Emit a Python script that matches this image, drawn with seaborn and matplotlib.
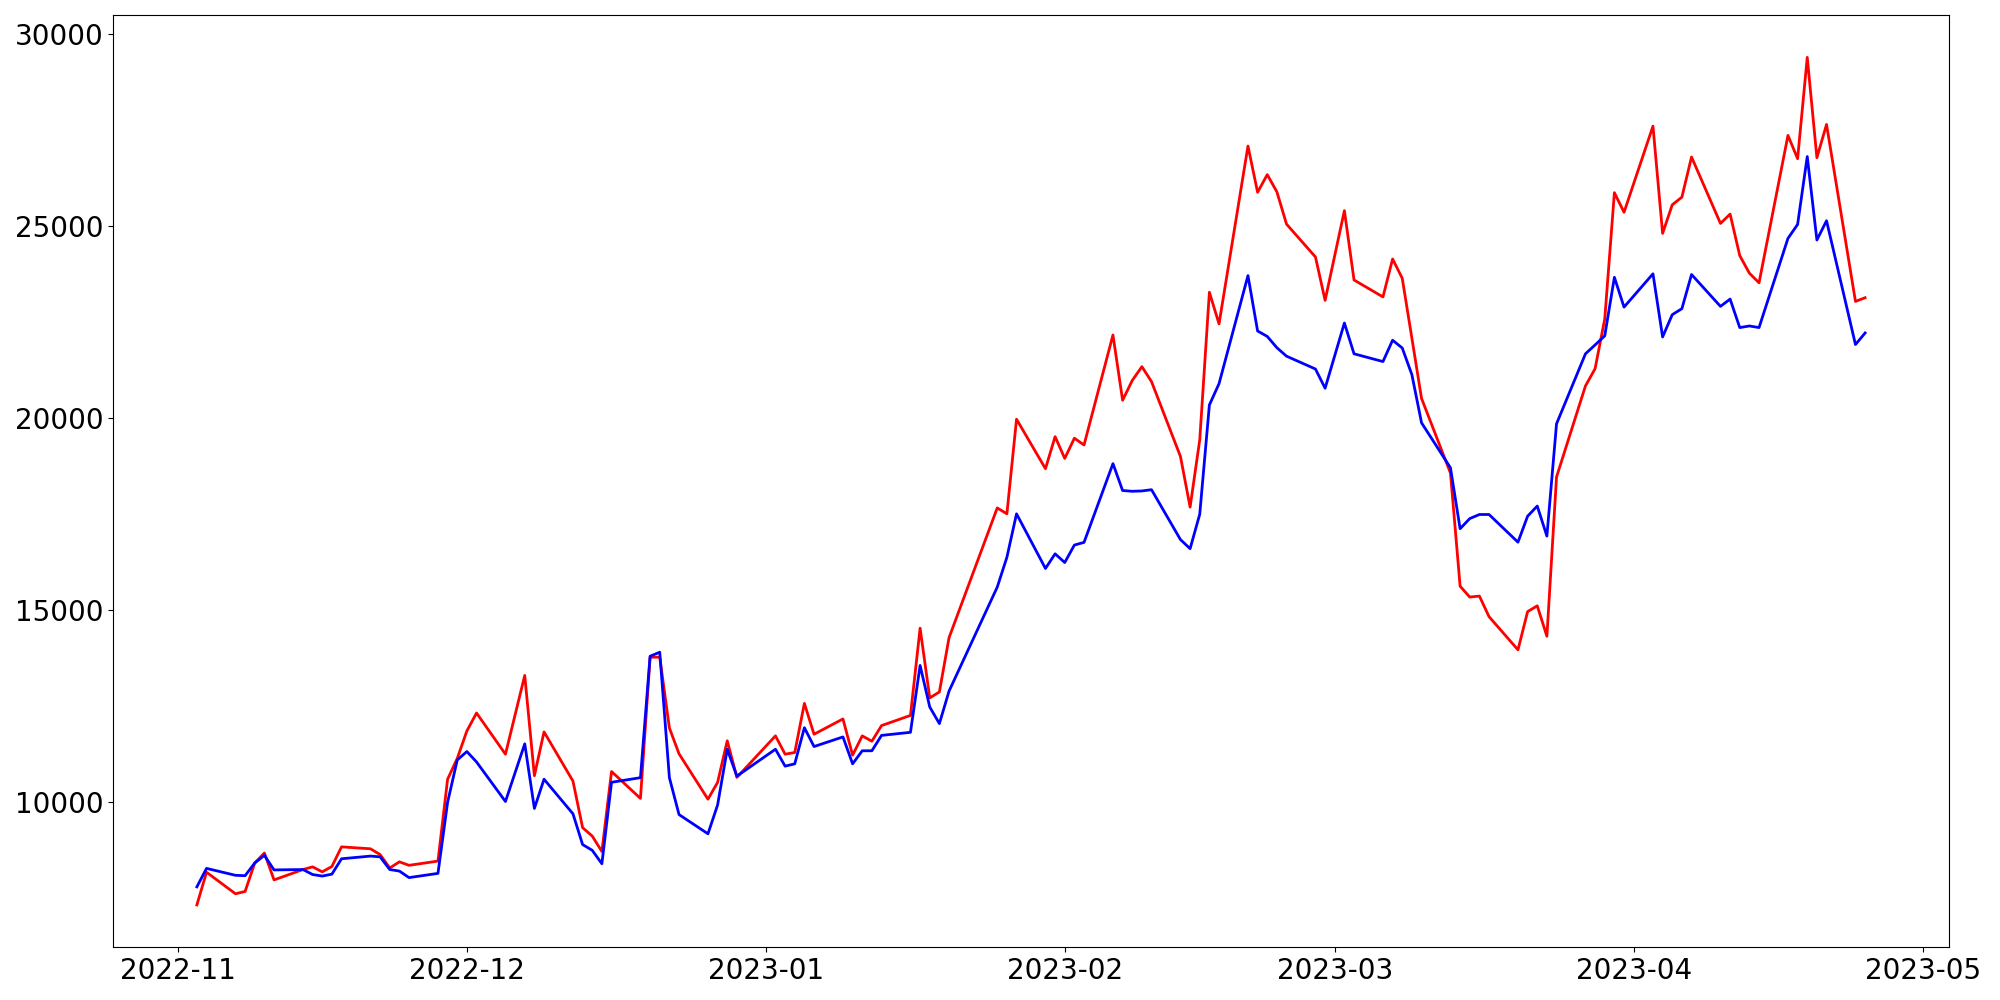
import matplotlib
matplotlib.use("Agg")
import matplotlib.pyplot as plt
import seaborn as sns
import pandas as pd

nov = [3, 4, 7, 8, 9, 10, 11, 14, 15, 16, 17, 18, 21, 22, 23, 24, 25, 28, 29, 30]
dec = [1, 2, 5, 7, 8, 9, 12, 13, 14, 15, 16, 19, 20, 21, 22, 23, 26, 27, 28, 29]
jan = [2, 3, 4, 5, 6, 9, 10, 11, 12, 13, 16, 17, 18, 19, 20, 25, 26, 27, 30, 31]
feb = [1, 2, 3, 6, 7, 8, 9, 10, 13, 14, 15, 16, 17, 20, 21, 22, 23, 24, 27, 28]
mar = [2, 3, 6, 7, 8, 9, 10, 13, 14, 15, 16, 17, 20, 21, 22, 23, 24, 27, 28, 29, 30, 31]
apr = [3, 4, 5, 6, 7, 10, 11, 12, 13, 14, 17, 18, 19, 20, 21, 24, 25]

red_series = [
    7330, 8180, 7620, 7680, 8420, 8680, 7980, 8250, 8320, 8190, 8330, 8840, 8790, 8640, 8290, 8450, 8360, 8470, 10600, 11140,
    11857, 12323, 11251, 13300, 10691, 11831, 10552, 9340, 9120, 8720, 10800, 10100, 13774, 13774, 11935, 11261, 10080, 10518, 11600, 10648,
    11728, 11251, 11295, 12573, 11770, 12168, 11226, 11728, 11588, 11995, 12260, 14530, 12715, 12870, 14282, 17658, 17505, 19966, 18679, 19513,
    18946, 19472, 19295, 22158, 20459, 20974, 21334, 20943, 18997, 17679, 19430, 23269, 22446, 27073, 25870, 26330, 25881, 25041, 24187, 23059,
    25393, 23588, 23148, 24135, 23632, 22073, 20507, 18566, 15622, 15339, 15365, 14829, 13966, 14961, 15111, 14319, 18464, 20832, 21282, 22575, 25860, 25350,
    27591, 24801, 25544, 25744, 26788, 25060, 25303, 24223, 23765, 23515, 27350, 26744, 29380, 26770, 27635, 23031, 23127,
]

blue_series = [
    7800, 8280, 8100, 8090, 8420, 8620, 8240, 8250, 8120, 8080, 8130, 8530, 8600, 8580, 8250, 8210, 8040, 8150, 10000, 11100,
    11320, 11049, 10020, 11520, 9840, 10600, 9700, 8900, 8750, 8400, 10520, 10640, 13800, 13904, 10640, 9680, 9180, 9930, 11380, 10680,
    11380, 10940, 11000, 11940, 11450, 11700, 11000, 11340, 11340, 11740, 11820, 13560, 12479, 12047, 12891, 15598, 16373, 17505, 16083, 16464,
    16238, 16692, 16762, 18811, 18111, 18091, 18100, 18132, 16834, 16598, 17495, 20337, 20891, 23702, 22261, 22120, 21826, 21606, 21272, 20772,
    22469, 21668, 21466, 22021, 21819, 21124, 19873, 18702, 17117, 17381, 17487, 17487, 16767, 17443, 17707, 16925, 19847, 21668, 21899, 22135, 23658, 22883,
    23749, 22106, 22686, 22842, 23731, 22902, 23091, 22350, 22392, 22350, 24671, 25034, 26800, 24629, 25130, 21909, 22210,
]

dates = ([f"2022-11-{d:02d}" for d in nov] + [f"2022-12-{d:02d}" for d in dec]
         + [f"2023-01-{d:02d}" for d in jan] + [f"2023-02-{d:02d}" for d in feb]
         + [f"2023-03-{d:02d}" for d in mar] + [f"2023-04-{d:02d}" for d in apr])

df = pd.DataFrame({"date": pd.to_datetime(dates), "red": red_series, "blue": blue_series})

fig, ax = plt.subplots(figsize=(20, 10), dpi=100)
sns.lineplot(data=df, x="date", y="red", color="red", linewidth=2, ax=ax)
sns.lineplot(data=df, x="date", y="blue", color="blue", linewidth=2, ax=ax)
ax.set_xlabel("")
ax.set_ylabel("")
ax.tick_params(axis="both", labelsize=20)
fig.tight_layout()
fig.savefig("out.png", dpi=100)
